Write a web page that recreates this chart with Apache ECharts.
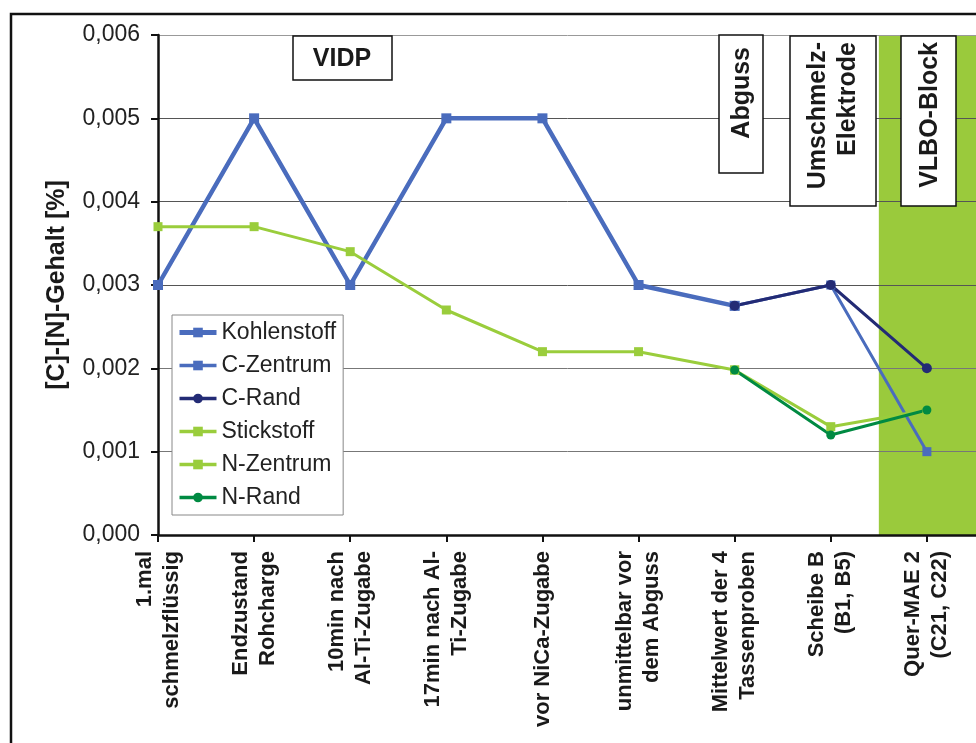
<!DOCTYPE html>
<html>
<head>
<meta charset="utf-8">
<script src="https://cdn.jsdelivr.net/npm/echarts@6/dist/echarts.min.js"></script>
<style>
html,body{margin:0;padding:0;background:#fff;}
#c{width:976px;height:743px;}
</style>
</head>
<body>
<div id="c"></div>
<script>
const categories = ['1.mal\nschmelzflüssig', 'Endzustand\nRohcharge', '10min nach\nAl-Ti-Zugabe', '17min nach Al-\nTi-Zugabe', 'vor NiCa-Zugabe', 'unmittelbar vor\ndem Abguss', 'Mittelwert der 4\nTassenproben', 'Scheibe B\n(B1, B5)', 'Quer-MAE 2\n(C21, C22)', ''];
const kohlenstoff = [0.003, 0.005, 0.003, 0.005, 0.005, 0.003, 0.00275, null, null, null];
const cZentrum = [null, null, null, null, null, null, 0.00275, 0.003, 0.001, null];
const cRand = [null, null, null, null, null, null, 0.00275, 0.003, 0.002, null];
const stickstoff = [0.0037, 0.0037, 0.0034, 0.0027, 0.0022, 0.0022, 0.00198, null, null, null];
const nZentrum = [null, null, null, null, null, null, 0.00198, 0.0013, 0.0015, null];
const nRand = [null, null, null, null, null, null, 0.00198, 0.0012, 0.0015, null];
const yTicks = [0, 0.001, 0.002, 0.003, 0.004, 0.005, 0.006];
const bandRange = [7.5, 9];

const chart = echarts.init(document.getElementById('c'), null, {renderer: 'canvas'});
const FONT = 'Liberation Sans, Arial, sans-serif';
const boxStyle = {fill: '#fff', stroke: '#111', lineWidth: 1.5};
const annText = {fill: '#1a1a1a', font: 'bold 25px ' + FONT};

function lineSeries(name, data, color, width, symbol, size) {
  return {
    name: name, type: 'line', data: data, connectNulls: false,
    symbol: symbol, symbolSize: size, showSymbol: true,
    lineStyle: {color: color, width: width},
    itemStyle: {color: color},
    emphasis: {disabled: true}, animation: false, z: 3
  };
}

chart.setOption({
  animation: false,
  textStyle: {fontFamily: FONT},
  grid: {left: 158, top: 35, width: 865, height: 500, containLabel: false, outerBoundsMode: 'none'},
  xAxis: [{
    type: 'category', data: categories, boundaryGap: false,
    axisLine: {show: true, lineStyle: {color: '#111', width: 2.5}},
    axisTick: {show: true, length: 7, lineStyle: {color: '#111', width: 2}},
    axisLabel: {interval: 0, rotate: 90, margin: 16, color: '#1a1a1a', fontSize: 22, fontWeight: 'bold', lineHeight: 27, fontFamily: FONT},
    splitLine: {show: false}
  }, {
    type: 'value', min: 0, max: 9, show: false, gridIndex: 0
  }],
  yAxis: {
    type: 'value', min: 0, max: 0.006, interval: 0.001,
    name: '[C]-[N]-Gehalt [%]', nameLocation: 'middle', nameGap: 88,
    nameTextStyle: {fontSize: 25, fontWeight: 'bold', color: '#1a1a1a', fontFamily: FONT},
    axisLine: {show: true, onZero: false, lineStyle: {color: '#111', width: 2.5}},
    axisTick: {show: true, length: 7, lineStyle: {color: '#111', width: 2}},
    axisLabel: {margin: 18, color: '#222', fontSize: 23, fontFamily: FONT,
      formatter: v => v.toFixed(3).replace('.', ',')},
    splitLine: {show: true, lineStyle: {color: ['#666', '#777', '#777', '#555', '#555', '#555', '#999'], width: 1}}
  },
  legend: {
    orient: 'vertical', left: 172, top: 315,
    padding: [6, 7, 6, 5], itemGap: 10, itemWidth: 37, itemHeight: 12,
    backgroundColor: '#fff', borderColor: '#888', borderWidth: 1,
    textStyle: {fontSize: 23, color: '#222', fontFamily: FONT},
    data: [
      {name: 'Kohlenstoff', lineStyle: {width: 5}},
      {name: 'C-Zentrum', lineStyle: {width: 3.5}},
      {name: 'C-Rand', lineStyle: {width: 3.5}},
      {name: 'Stickstoff', lineStyle: {width: 3.5}},
      {name: 'N-Zentrum', lineStyle: {width: 3.5}},
      {name: 'N-Rand', lineStyle: {width: 3.5}}
    ]
  },
  series: [
    {
      name: 'band', type: 'line', xAxisIndex: 1, data: [], z: -1, silent: true,
      markArea: {silent: true, z: -1, itemStyle: {color: '#9aca3c', opacity: 1},
        data: [[{xAxis: bandRange[0]}, {xAxis: bandRange[1]}]]}
    },
    lineSeries('Kohlenstoff', kohlenstoff, '#4a6cbd', 4.5, 'rect', 10),
    lineSeries('C-Zentrum', cZentrum, '#4a6cbd', 3, 'rect', 9),
    lineSeries('C-Rand', cRand, '#232b75', 3, 'circle', 10),
    lineSeries('Stickstoff', stickstoff, '#9acd3c', 3, 'rect', 9),
    lineSeries('N-Zentrum', nZentrum, '#9acd3c', 3, 'rect', 9),
    lineSeries('N-Rand', nRand, '#008a42', 3, 'circle', 9)
  ],
  graphic: [
    {type: 'rect', z: -10, shape: {x: 11, y: 14, width: 1200, height: 900}, style: {fill: 'none', stroke: '#111', lineWidth: 2.5}},
    {type: 'rect', z: 50, shape: {x: 293, y: 36, width: 99, height: 44}, style: boxStyle},
    {type: 'text', z: 51, x: 342, y: 59, style: Object.assign({text: 'VIDP', align: 'center', verticalAlign: 'middle'}, annText)},
    {type: 'rect', z: 50, shape: {x: 719, y: 35, width: 44, height: 138}, style: boxStyle},
    {type: 'text', z: 51, x: 742, y: 47, rotation: Math.PI / 2, style: Object.assign({text: 'Abguss', align: 'right', verticalAlign: 'middle'}, annText)},
    {type: 'rect', z: 50, shape: {x: 790, y: 36, width: 86, height: 170}, style: boxStyle},
    {type: 'text', z: 51, x: 833, y: 42, rotation: Math.PI / 2, style: Object.assign({text: 'Umschmelz-\nElektrode', align: 'right', verticalAlign: 'middle', lineHeight: 30}, annText)},
    {type: 'rect', z: 50, shape: {x: 901, y: 36, width: 55, height: 170}, style: boxStyle},
    {type: 'text', z: 51, x: 930, y: 42, rotation: Math.PI / 2, style: Object.assign({text: 'VLBO-Block', align: 'right', verticalAlign: 'middle'}, annText)}
  ]
});
</script>
</body>
</html>
